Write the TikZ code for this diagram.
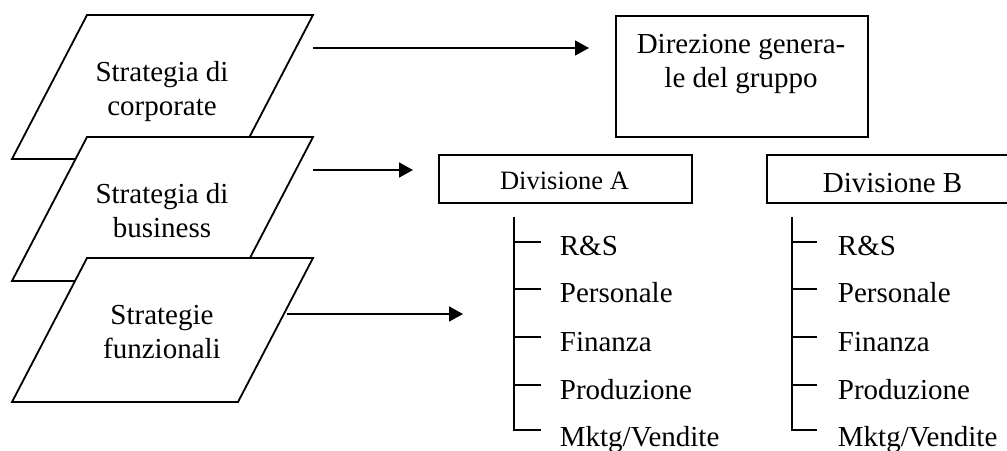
\documentclass[tikz,border=0pt]{standalone}
\usepackage{fontspec}
\setmainfont{Liberation Serif}
\usetikzlibrary{arrows.meta}
\begin{document}
\begin{tikzpicture}[x=1pt,y=-1pt,
  line width=1.8pt,
  txt/.style={font=\fontsize{29}{33.5}\selectfont, inner sep=0pt, align=center, anchor=base},
  lbl/.style={font=\fontsize{29}{33.5}\selectfont, inner sep=0pt, anchor=base west},
  plane/.style={draw, fill=white, line join=miter},
  box/.style={draw, inner sep=0pt, anchor=north west},
  link/.style={-{Triangle[length=14pt,width=15pt]}},
  ]
\useasboundingbox (0,0) rectangle (1007,450);

% three stacked strategy planes, each drawn over the one above
% (a two-line node sits on the baseline of its last line)
\draw[plane] (87,15)  -- (313,15)  -- (238,159) -- (12,159) -- cycle;
\node[txt] (corp) at (162,115) {Strategia di\\corporate};
\draw[plane] (87,137) -- (313,137) -- (238,281) -- (12,281) -- cycle;
\node[txt] (bus) at (162,237) {Strategia di\\business};
\draw[plane] (87,258) -- (313,258) -- (238,402) -- (12,402) -- cycle;
\node[txt] (funz) at (162,358) {Strategie\\funzionali};

% organisation boxes
\node[box, minimum width=252pt, minimum height=121pt] (dir) at (615,15) {};
\node[txt] (dirtext) at (741,87) {Direzione genera-\\le del gruppo};
\node[box, minimum width=253pt, minimum height=48pt] (divA) at (438,154) {};
\node[txt, font=\fontsize{26.5}{30}\selectfont] (divAtext) at (564.5,189) {Divisione A};
\node[box, minimum width=260pt, minimum height=48pt] (divB) at (766,154) {};
\node[lbl] (divBtext) at (822,192) {Divisione B};

% arrows from the planes to the levels
\coordinate (s1) at (313,48);  \coordinate (e1) at (589,48);
\coordinate (s2) at (313,170); \coordinate (e2) at (413,170);
\coordinate (s3) at (287,314); \coordinate (e3) at (463,314);
\draw[link] (s1) -- (e1);
\draw[link] (s2) -- (e2);
\draw[link] (s3) -- (e3);

% functional trees of the two divisions
\foreach \side/\vx/\tx/\lx in {A/514/541/559, B/792/817/837} {
  \coordinate (\side top) at (\vx,217);
  \coordinate (\side bot) at (\vx,430);
  \coordinate (\side end) at (\tx,430);
  \draw (\side top) -- (\side bot) -- (\side end);
  \foreach \ty/\k in {242/1, 289/2, 337/3, 385/4} {
    \coordinate (\side t\k) at (\vx,\ty);
    \coordinate (\side u\k) at (\tx,\ty);
    \draw (\side t\k) -- (\side u\k);
  }
  \node[lbl] (\side rs)   at (\lx,255) {R\&S};
  \node[lbl] (\side pers) at (\lx,302) {Personale};
  \node[lbl] (\side fin)  at (\lx,351) {Finanza};
  \node[lbl] (\side prod) at (\lx,399) {Produzione};
  \node[lbl] (\side mkt)  at (\lx,446) {Mktg/Vendite};
}
\end{tikzpicture}
\end{document}
